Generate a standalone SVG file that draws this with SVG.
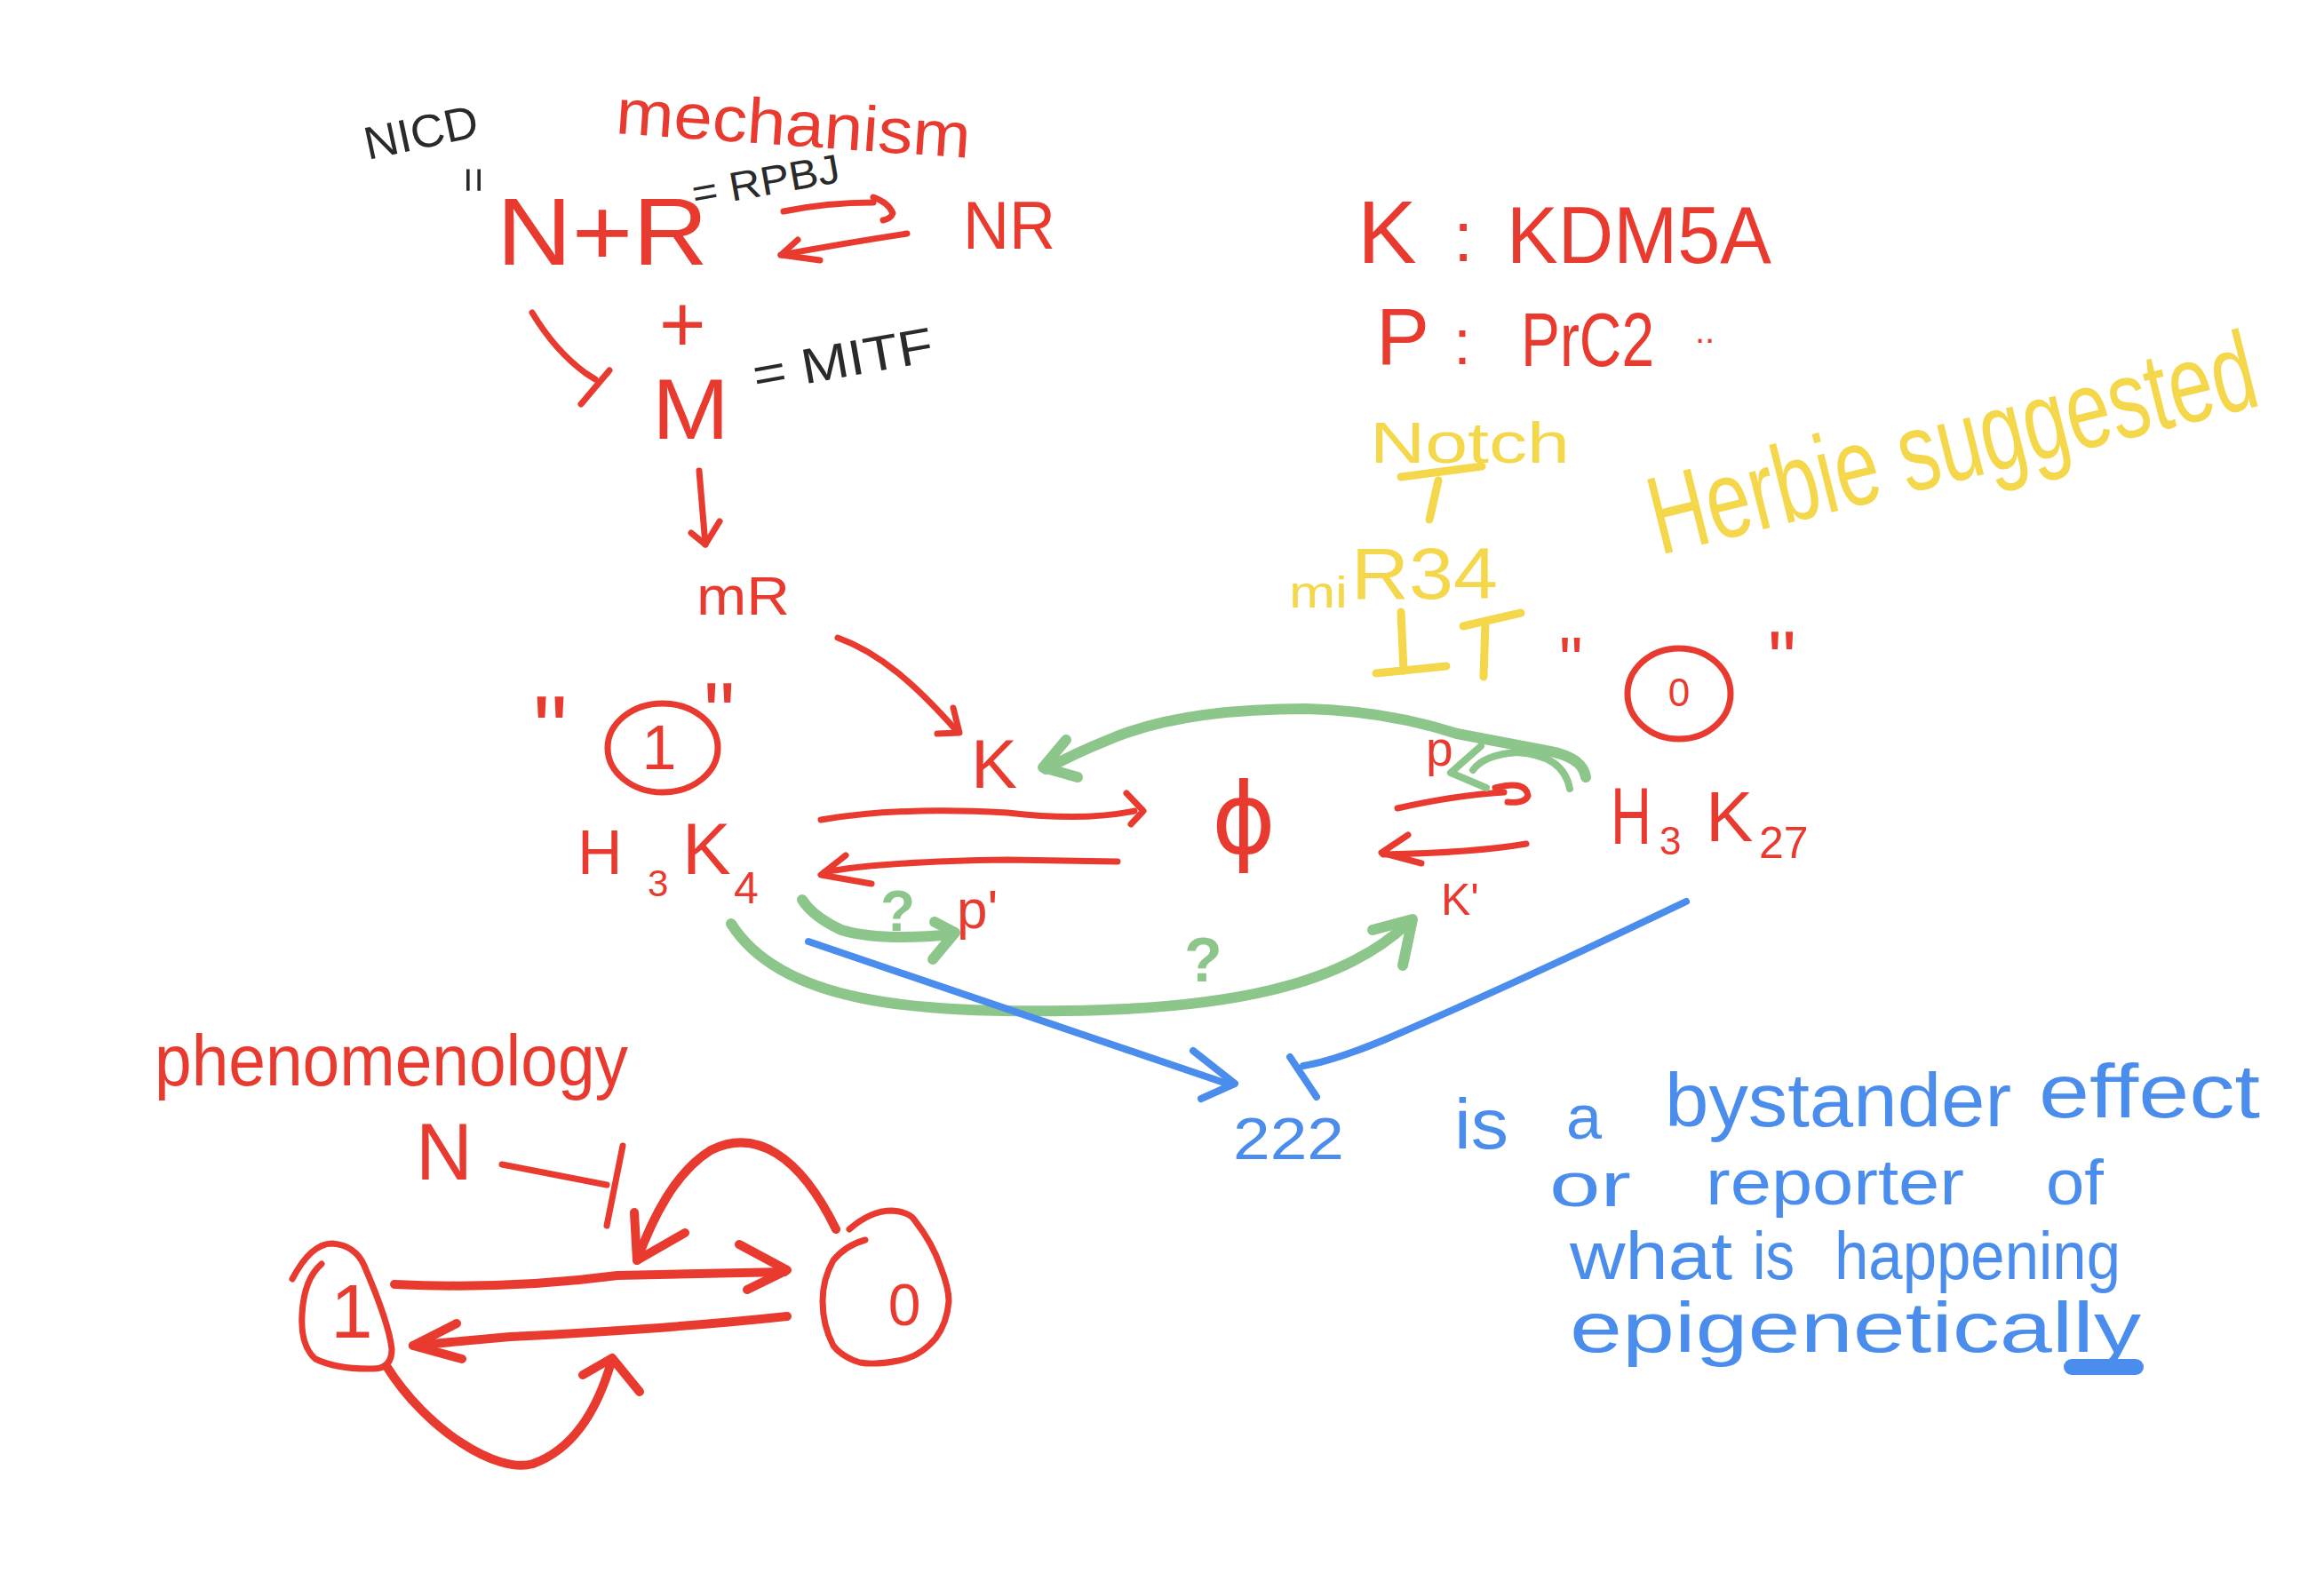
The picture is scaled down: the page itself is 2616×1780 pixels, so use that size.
<svg xmlns="http://www.w3.org/2000/svg" width="2616" height="1780" viewBox="0 0 2616 1780">
<style>
.tr{fill:#E93A2F;font-family:"Liberation Sans",Arial,sans-serif}
.tk{fill:#2a2a2a;font-family:"Liberation Sans",Arial,sans-serif}
.ty{fill:#F4D74B;font-family:"Liberation Sans",Arial,sans-serif}
.tb{fill:#4B8DEC;font-family:"Liberation Sans",Arial,sans-serif}
.tg{fill:#8DC68B;font-family:"Liberation Sans",Arial,sans-serif;font-weight:bold}
.sr{fill:none;stroke:#E93A2F;stroke-width:7;stroke-linecap:round;stroke-linejoin:round}
.sr2{fill:none;stroke:#E93A2F;stroke-width:10;stroke-linecap:round;stroke-linejoin:round}
.sg{fill:none;stroke:#8DC68B;stroke-width:12;stroke-linecap:round;stroke-linejoin:round}
.sgt{fill:none;stroke:#8DC68B;stroke-width:8;stroke-linecap:round;stroke-linejoin:round}
.sb{fill:none;stroke:#4B8DEC;stroke-width:8;stroke-linecap:round;stroke-linejoin:round}
.sy{fill:none;stroke:#F4D74B;stroke-width:9;stroke-linecap:round;stroke-linejoin:round}
</style>
<rect width="2616" height="1780" fill="#ffffff"/>

<!-- mechanism section labels -->
<g id="title-mechanism"><text class="tr" x="692" y="150" font-size="72" textLength="400" lengthAdjust="spacingAndGlyphs" transform="rotate(4 692 150)">mechanism</text></g>
<g id="nicd"><text class="tk" x="414" y="180" font-size="52" textLength="130" lengthAdjust="spacingAndGlyphs" transform="rotate(-12 414 180)">NICD</text>
<text class="tk" x="505" y="200" font-size="50" transform="rotate(90 517 200)">=</text></g>
<g id="node-NR-complex"><text class="tr" x="559" y="298" font-size="108" textLength="238" lengthAdjust="spacingAndGlyphs">N+R</text>
<text class="tk" x="782" y="234" font-size="46" textLength="168" lengthAdjust="spacingAndGlyphs" transform="rotate(-10 782 234)">= RPBJ</text></g>
<g id="node-NR"><text class="tr" x="1084" y="280" font-size="76" textLength="104" lengthAdjust="spacingAndGlyphs">NR</text></g>
<g id="plus"><text class="tr" x="742" y="396" font-size="90">+</text></g>
<g id="node-M"><text class="tr" x="734" y="494" font-size="96" textLength="87" lengthAdjust="spacingAndGlyphs">M</text>
<text class="tk" x="851" y="442" font-size="56" textLength="205" lengthAdjust="spacingAndGlyphs" transform="rotate(-10 851 442)">= MITF</text></g>
<g id="node-mR"><text class="tr" x="784" y="692" font-size="62" textLength="105" lengthAdjust="spacingAndGlyphs">mR</text></g>
<g id="node-K"><text class="tr" x="1093" y="887" font-size="78">K</text></g>

<!-- state 1 -->
<g id="node-state1">
<text class="tr" x="600" y="860" font-size="110">"</text>
<ellipse class="sr" cx="746" cy="842" rx="62" ry="50"/>
<text class="tr" x="742" y="866" font-size="70" text-anchor="middle">1</text>
<text class="tr" x="792" y="838" font-size="100">"</text>
</g>
<g id="node-H3K4"><text class="tr"><tspan x="650" y="984" font-size="70">H</tspan><tspan x="729" y="1009" font-size="42">3</tspan><tspan x="768" y="984" font-size="82">K</tspan><tspan x="826" y="1017" font-size="50">4</tspan></text></g>
<g id="node-phi"><text class="tr" x="1400" y="960" font-size="110" text-anchor="middle" style="font-family:'DejaVu Sans',sans-serif">ϕ</text></g>
<g id="label-p"><text class="tr" x="1605" y="862" font-size="55">p</text></g>
<g id="label-Kprime"><text class="tr" x="1622" y="1030" font-size="50">K'</text></g>
<g id="label-pprime"><text class="tr" x="1077" y="1045" font-size="62">p'</text></g>
<g id="node-H3K27"><text class="tr"><tspan x="1813" y="950" font-size="90" textLength="46" lengthAdjust="spacingAndGlyphs">H</tspan><tspan x="1868" y="962" font-size="44">3</tspan><tspan x="1920" y="947" font-size="80">K</tspan><tspan x="1980" y="966" font-size="50">27</tspan></text></g>
<!-- state 0 -->
<g id="node-state0">
<text class="tr" x="1755" y="769" font-size="75">"</text>
<ellipse class="sr" cx="1890" cy="781" rx="58" ry="51"/>
<text class="tr" x="1890" y="795" font-size="44" text-anchor="middle">0</text>
<text class="tr" x="1990" y="774" font-size="90">"</text>
</g>

<!-- legend -->
<g id="legend-K"><text class="tr"><tspan x="1528" y="296" font-size="100">K</tspan><tspan x="1636" y="294" font-size="80">:</tspan><tspan x="1696" y="296" font-size="90" textLength="298" lengthAdjust="spacingAndGlyphs">KDM5A</tspan></text></g>
<g id="legend-P"><text class="tr"><tspan x="1549" y="410" font-size="90">P</tspan><tspan x="1636" y="410" font-size="72">:</tspan><tspan x="1712" y="412" font-size="85" textLength="150" lengthAdjust="spacingAndGlyphs">PrC2</tspan><tspan x="1908" y="386" font-size="40">..</tspan></text></g>

<!-- yellow -->
<g id="node-Notch"><text class="ty" x="1542" y="521" font-size="64" textLength="225" lengthAdjust="spacingAndGlyphs">Notch</text></g>
<g id="node-miR34"><text class="ty"><tspan x="1451" y="684" font-size="50" textLength="66" lengthAdjust="spacingAndGlyphs">mi</tspan><tspan x="1521" y="674" font-size="82" textLength="165" lengthAdjust="spacingAndGlyphs">R34</tspan></text></g>
<g id="note-herbie"><text class="ty" x="1868" y="625" font-size="125" textLength="700" lengthAdjust="spacingAndGlyphs" transform="rotate(-14 1868 625)">Herbie suggested</text></g>

<!-- phenomenology -->
<g id="title-phenomenology"><text class="tr" x="174" y="1222" font-size="82" textLength="533" lengthAdjust="spacingAndGlyphs">phenomenology</text></g>
<g id="pheno-N"><text class="tr" x="468" y="1328" font-size="90" textLength="64" lengthAdjust="spacingAndGlyphs">N</text></g>
<g id="pheno-state1">
<path class="sr" d="M329,1440 Q350,1400 374,1400 Q400,1402 410,1425 Q438,1490 441,1519 Q441,1541 420,1541 Q380,1542 355,1530 Q338,1515 340,1480 Q342,1440 362,1423"/>
<text class="tr" x="396" y="1506" font-size="85" text-anchor="middle">1</text>
</g>
<g id="pheno-state0">
<path class="sr" d="M956,1384 Q980,1363 1004,1363 Q1022,1364 1029,1373 Q1050,1400 1059,1427 Q1068,1450 1068,1465 Q1066,1490 1053,1507 Q1035,1528 1011,1532 Q985,1537 968,1534 Q948,1528 938,1515 Q926,1492 926,1465 Q926,1440 938,1419 Q952,1402 974,1396"/>
<text class="tr" x="1018" y="1492" font-size="66" text-anchor="middle">0</text>
</g>

<!-- blue notes -->
<g id="node-222"><text class="tb" x="1388" y="1305" font-size="66" textLength="125" lengthAdjust="spacingAndGlyphs">222</text></g>
<g id="note-bystander">
<text class="tb" x="1637" y="1293" font-size="80" textLength="61" lengthAdjust="spacingAndGlyphs">is</text>
<text class="tb" x="1763" y="1282" font-size="70" textLength="40" lengthAdjust="spacingAndGlyphs">a</text>
<text class="tb" x="1874" y="1268" font-size="86" textLength="390" lengthAdjust="spacingAndGlyphs">bystander</text>
<text class="tb" x="2295" y="1258" font-size="86" textLength="249" lengthAdjust="spacingAndGlyphs">effect</text>
<text class="tb" x="1744" y="1358" font-size="70" textLength="92" lengthAdjust="spacingAndGlyphs">or</text>
<text class="tb" x="1920" y="1356" font-size="72" textLength="291" lengthAdjust="spacingAndGlyphs">reporter</text>
<text class="tb" x="2303" y="1356" font-size="72" textLength="65" lengthAdjust="spacingAndGlyphs">of</text>
<text class="tb" x="1767" y="1440" font-size="76" textLength="183" lengthAdjust="spacingAndGlyphs">what</text>
<text class="tb" x="1973" y="1440" font-size="76" textLength="47" lengthAdjust="spacingAndGlyphs">is</text>
<text class="tb" x="2065" y="1440" font-size="76" textLength="322" lengthAdjust="spacingAndGlyphs">happening</text>
<text class="tb" x="1767" y="1522" font-size="80" textLength="643" lengthAdjust="spacingAndGlyphs">epigenetically</text>
<path d="M2332,1539 L2404,1539" fill="none" stroke="#4B8DEC" stroke-width="18" stroke-linecap="round"/>
</g>

<!-- connectors -->
<g id="connectors">
<path class="sr" d="M882,238 Q930,228 983,228"/>
<path class="sr" d="M983,222 Q1000,228 1005,240 Q1003,246 994,248"/>
<path class="sr" d="M1021,263 Q955,273 879,287"/>
<path class="sr" d="M898,270 L879,287 L923,293"/>
<path class="sr" d="M599,352 Q625,395 659,420 L670,427"/>
<path class="sr" d="M654,455 L686,417"/>
<path class="sr" d="M787,530 L794,613"/>
<path class="sr" d="M778,600 L794,613 L810,587"/>
<path class="sr" d="M943,718 C990,735 1030,770 1077,823"/>
<path class="sr" d="M1055,826 L1080,825 L1073,797"/>
<path class="sr" d="M924,923 Q1010,908 1134,915 Q1220,925 1277,913"/>
<path class="sr" d="M1268,893 L1287,913 L1273,928"/>
<path class="sr" d="M1258,970 L1134,968 Q990,970 928,982"/>
<path class="sr" d="M952,963 L924,985 L981,995"/>
<path class="sr" d="M1573,910 Q1640,895 1693,892"/>
<path class="sr" d="M1683,887 Q1718,878 1720,896 Q1716,905 1697,903"/>
<path class="sr" d="M1718,950 Q1660,960 1557,962"/>
<path class="sr" d="M1585,940 L1555,960 L1600,972"/>
<path class="sy" d="M1577,537 L1668,525"/>
<path class="sy" d="M1619,541 L1609,585"/>
<path class="sy" d="M1577,689 L1580,755"/>
<path class="sy" d="M1549,758 L1628,750"/>
<path class="sy" d="M1647,705 L1712,690"/>
<path class="sy" d="M1672,700 L1670,762"/>
<path class="sg" d="M1785,875 Q1782,852 1740,845 L1640,826 Q1560,800 1470,798 Q1330,798 1250,832 Q1210,848 1177,866"/>
<path class="sg" d="M1200,833 L1174,864 L1213,875"/>
<path class="sgt" d="M1767,888 Q1760,850 1707,847 Q1670,850 1658,867"/>
<path class="sgt" d="M1667,840 L1633,870 L1673,887"/>
<path class="sg" d="M823,1040 C880,1130 1030,1140 1200,1138 C1380,1136 1510,1110 1584,1040"/>
<path class="sg" d="M1545,1047 L1590,1035 L1579,1087"/>
<text class="tg" x="1333" y="1105" font-size="70">?</text>
<path class="sg" d="M903,1013 Q915,1032 947,1047 Q990,1060 1073,1052"/>
<path class="sg" d="M1052,1038 L1075,1050 L1050,1080"/>
<text class="tg" x="991" y="1048" font-size="64">?</text>
<path class="sb" d="M910,1060 L1384,1221"/>
<path class="sb" d="M1343,1183 L1390,1220 L1352,1237"/>
<path class="sb" d="M1898,1015 Q1700,1110 1560,1170 Q1500,1195 1467,1200"/>
<path class="sb" d="M1452,1190 L1482,1235"/>
<path class="sr" d="M565,1311 L683,1334"/>
<path class="sr" d="M701,1290 L683,1380"/>
<path class="sr2" d="M444,1446 Q574,1452 695,1436 L883,1432"/>
<path class="sr2" d="M832,1401 L886,1430 L841,1452"/>
<path class="sr2" d="M886,1482 Q756,1496 574,1505 L465,1515"/>
<path class="sr2" d="M514,1490 L465,1515 L520,1530"/>
<path class="sr2" d="M941,1384 C900,1300 850,1270 800,1295 C760,1320 735,1370 717,1419"/>
<path class="sr2" d="M714,1365 L717,1419 L771,1388"/>
<path class="sr2" d="M435,1538 C480,1610 560,1660 600,1648 C650,1630 675,1580 689,1530"/>
<path class="sr2" d="M656,1548 L689,1529 L720,1567"/>
</g>
</svg>
